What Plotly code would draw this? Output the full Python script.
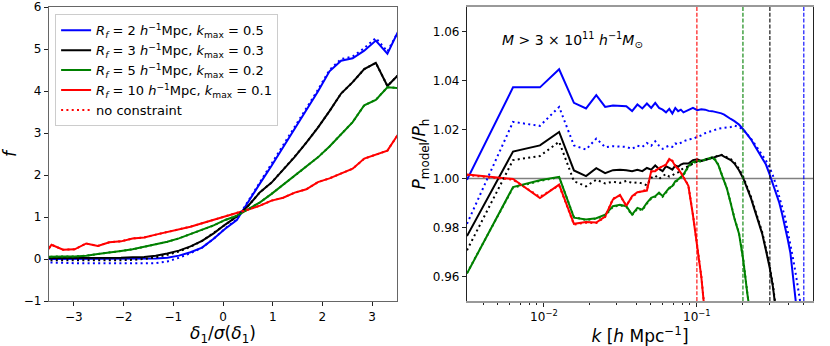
import plotly.graph_objects as go
from plotly.subplots import make_subplots

# ---- left panel: f vs delta_1 / sigma(delta_1) ----
delta_bins = [-3.683, -3.45, -3.217, -2.984, -2.751, -2.518, -2.285, -2.052, -1.819, -1.586,
              -1.353, -1.12, -0.887, -0.654, -0.421, -0.188, 0.045, 0.278, 0.511, 0.744,
              0.977, 1.21, 1.443, 1.676, 1.909, 2.142, 2.375, 2.608, 2.841, 3.074, 3.307, 3.54]

f_r2 = [0.0, 0.0, 0.0, 0.0, 0.0, 0.0, 0.0, 0.0, 0.0, 0.01, 0.01, 0.03, 0.08, 0.16, 0.27, 0.48,
        0.72, 0.93, 1.38, 1.80, 2.22, 2.66, 3.11, 3.55, 3.99, 4.47, 4.72, 4.78, 4.96, 5.2, 4.89, 5.46]
f_r3 = [0.02, 0.02, 0.02, 0.02, 0.02, 0.02, 0.02, 0.03, 0.04, 0.05, 0.08, 0.13, 0.2, 0.3, 0.43, 0.61,
        0.82, 1.01, 1.27, 1.59, 1.82, 2.12, 2.43, 2.77, 3.13, 3.52, 3.94, 4.21, 4.52, 4.67, 4.12, 4.40]
f_r5 = [0.05, 0.06, 0.06, 0.06, 0.08, 0.12, 0.15, 0.19, 0.23, 0.29, 0.34, 0.41, 0.49, 0.59, 0.69, 0.8,
        0.93, 1.03, 1.19, 1.35, 1.55, 1.77, 2.0, 2.2, 2.42, 2.68, 2.98, 3.26, 3.66, 3.79, 4.09, 4.07]
f_r10 = [-0.05, 0.34, 0.22, 0.23, 0.37, 0.31, 0.40, 0.42, 0.49, 0.51, 0.58, 0.64, 0.71, 0.77, 0.85, 0.93,
         1.01, 1.09, 1.18, 1.27, 1.39, 1.46, 1.58, 1.66, 1.83, 1.92, 2.03, 2.15, 2.39, 2.48, 2.58, 3.0]

# "no constraint" versions
f_r2_nc = [-0.08, -0.08, -0.09, -0.1, -0.1, -0.11, -0.11, -0.11, -0.11, -0.11, -0.1, -0.06, 0.03, 0.14, 0.27, 0.48,
           0.73, 0.95, 1.39, 1.82, 2.24, 2.68, 3.13, 3.58, 4.03, 4.5, 4.76, 4.82, 5.02, 5.26, 4.94, 5.45]
f_r3_nc = [-0.03, -0.03, -0.04, -0.04, -0.04, -0.04, -0.04, -0.03, -0.02, 0.0, 0.04, 0.1, 0.18, 0.29, 0.43, 0.62,
           0.82, 1.01, 1.27, 1.59, 1.82, 2.12, 2.44, 2.77, 3.13, 3.52, 3.94, 4.21, 4.52, 4.67, 4.12, 4.40]
f_r5_nc = [0.05, 0.06, 0.06, 0.06, 0.08, 0.12, 0.15, 0.19, 0.23, 0.29, 0.34, 0.41, 0.49, 0.59, 0.69, 0.8,
           0.93, 1.03, 1.19, 1.35, 1.55, 1.77, 2.0, 2.2, 2.42, 2.68, 2.98, 3.26, 3.66, 3.79, 4.09, 4.07]
f_r10_nc = [-0.05, 0.34, 0.22, 0.23, 0.37, 0.31, 0.40, 0.42, 0.49, 0.51, 0.58, 0.64, 0.71, 0.77, 0.85, 0.93,
            1.01, 1.09, 1.18, 1.27, 1.39, 1.46, 1.58, 1.66, 1.83, 1.92, 2.03, 2.15, 2.39, 2.48, 2.58, 3.0]

# ---- right panel: P_model / P_h vs k ----
k = [0.00314, 0.00628, 0.00942, 0.01257, 0.01571, 0.01885, 0.02199, 0.02513, 0.02827, 0.03142,
     0.03456, 0.0377, 0.04084, 0.04398, 0.04712, 0.05027, 0.05341, 0.05655, 0.05969, 0.06283,
     0.06597, 0.06912, 0.07226, 0.0754, 0.07854, 0.08168, 0.08796, 0.09425, 0.10053, 0.10681,
     0.1131, 0.11938, 0.12566, 0.13195, 0.13823, 0.14451, 0.1508, 0.15708, 0.1665, 0.17593,
     0.1885, 0.20106, 0.21363, 0.2262, 0.23876, 0.25133, 0.26704, 0.28274, 0.29845, 0.31416,
     0.32987, 0.34558, 0.36128, 0.37699, 0.3927, 0.40841, 0.42412, 0.43982, 0.45553, 0.47124,
     0.48695]

p_r2 = [0.9995, 1.0372, 1.0372, 1.0446, 1.0309, 1.0286, 1.0340, 1.0292, 1.0298, 1.0296,
        1.0295, 1.0275, 1.0302, 1.0286, 1.0306, 1.0288, 1.0309, 1.0288, 1.0281, 1.0270,
        1.0284, 1.0265, 1.0288, 1.0275, 1.0281, 1.0270, 1.0281, 1.0288, 1.0279, 1.0283,
        1.0281, 1.0276, 1.0275, 1.0272, 1.0270, 1.0266, 1.0261, 1.0255, 1.0243, 1.0234,
        1.0220, 1.0200, 1.0179, 1.0159, 1.0134, 1.0111, 1.0084, 1.0057, 1.0018, 0.9978,
        0.9941, 0.9901, 0.9853, 0.9805, 0.9751, 0.9697, 0.9615, 0.9520, 0.9430, None, None]
p_r2_nc = [0.9815, 1.0231, 1.0215, 1.0292, 1.0135, 1.0118, 1.0163, 1.0128, 1.0132, 1.0129,
           1.0129, 1.0121, 1.0134, 1.0129, 1.0145, 1.0134, 1.0152, 1.0134, 1.0121, 1.0129,
           1.0134, 1.0129, 1.0143, 1.0139, 1.0145, 1.0152, 1.0159, 1.0162, 1.0170, 1.0176,
           1.0185, 1.0190, 1.0196, 1.0200, 1.0203, 1.0205, 1.0207, 1.0208, 1.0210, 1.0216,
           1.0210, 1.0199, 1.0182, 1.0162, 1.0141, 1.0121, 1.0100, 1.0073, 1.0046, 1.0012,
           0.9971, 0.9930, 0.9882, 0.9841, 0.9786, 0.9739, 0.9677, 0.9622, 0.9568, 0.9513, 0.9450]
p_r3 = [0.9765, 1.0110, 1.0135, 1.0190, 1.0033, 1.0010, 1.0042, 1.0022, 1.0034, 1.0036,
        1.0034, 1.0030, 1.0036, 1.0030, 1.0043, 1.0036, 1.0053, 1.0039, 1.0030, 1.0050,
        1.0043, 1.0036, 1.0053, 1.0048, 1.0057, 1.0061, 1.0061, 1.0075, 1.0078, 1.0072,
        1.0075, 1.0080, 1.0082, 1.0088, 1.0092, 1.0096, 1.0089, 1.0082, 1.0075, 1.0061,
        1.0034, 1.0000, 0.9959, 0.9918, 0.9871, 0.9830, 0.9775, 0.9707, 0.9639, 0.9558,
        0.9450] + [None] * 10
p_r3_nc = [0.9707, 1.0075, 1.0092, 1.0150, 0.9989, 0.9968, 0.9995, 0.9980, 0.9987, 0.9982,
           0.9990, 0.9982, 0.9984, 0.9980, 0.9972, 1.0003, 1.0012, 0.9998, 1.0010, 1.0018,
           1.0008, 1.0012, 1.0022, 1.0025, 1.0035, 1.0042, 1.0050, 1.0062, 1.0070, 1.0072,
           1.0077, 1.0082, 1.0085, 1.0090, 1.0094, 1.0097, 1.0092, 1.0086, 1.0079, 1.0066,
           1.0039, 1.0006, 0.9965, 0.9924, 0.9877, 0.9836, 0.9782, 0.9714, 0.9646, 0.9565,
           0.9460] + [None] * 10
p_r5 = [0.9612, 0.9965, 0.9993, 1.0007, 0.9840, 0.9833, 0.9838, 0.9852, 0.9887, 0.9893,
        0.9887, 0.9853, 0.9880, 0.9873, 0.9901, 0.9921, 0.9928, 0.9942, 0.9928, 0.9948,
        0.9962, 0.9969, 0.9989, 0.9996, 1.0007, 1.0016, 1.0050, 1.0067, 1.0070, 1.0072,
        1.0078, 1.0082, 1.0086, 1.0075, 1.0054, 1.0020, 0.9986, 0.9959, 0.9898, 0.9837,
        0.9775, 0.9666, 0.9530, 0.9420] + [None] * 17
p_r5_nc = [0.9614, 0.9962, 0.9990, 1.0005, 0.9843, 0.9830, 0.9836, 0.9848, 0.9884, 0.9890,
           0.9884, 0.9850, 0.9877, 0.9870, 0.9898, 0.9918, 0.9925, 0.9939, 0.9925, 0.9945,
           0.9959, 0.9966, 0.9986, 0.9993, 1.0004, 1.0013, 1.0047, 1.0064, 1.0068, 1.0070,
           1.0076, 1.0080, 1.0084, 1.0078, 1.0056, 1.0022, 0.9988, 0.9961, 0.9900, 0.9839,
           0.9777, 0.9668, 0.9532, 0.9422] + [None] * 17
p_r10 = [1.0016, 0.9998, 0.9920, 0.9975, 0.9815, 0.9822, 0.9820, 0.9845, 0.9915, 0.9933,
         0.9888, 0.9928, 0.9944, 0.9948, 0.9951, 1.0030, 1.0030, 1.0043, 1.0050, 1.0057,
         1.0080, 1.0071, 1.0050, 1.0039, 1.0023, 1.0003, 0.9970, 0.9850, 0.9730, 0.9600,
         0.9440] + [None] * 30
p_r10_nc = [1.0014, 0.9995, 0.9925, 0.9972, 0.9812, 0.9820, 0.9818, 0.9843, 0.9918, 0.9930,
            0.9890, 0.9925, 0.9941, 0.9950, 0.9953, 1.0027, 1.0033, 1.0040, 1.0052, 1.0054,
            1.0077, 1.0073, 1.0052, 1.0041, 1.0025, 1.0005, 0.9972, 0.9852, 0.9733, 0.9603,
            0.9445] + [None] * 30

r_f = [2, 3, 5, 10]
k_max = [0.5, 0.3, 0.2, 0.1]
colors = ["#0000ff", "#000000", "#008000", "#ff0000"]

f_solid = [f_r2, f_r3, f_r5, f_r10]
f_nc = [f_r2_nc, f_r3_nc, f_r5_nc, f_r10_nc]
p_solid = [p_r2, p_r3, p_r5, p_r10]
p_nc = [p_r2_nc, p_r3_nc, p_r5_nc, p_r10_nc]

FONT = "DejaVu Sans"
DOT = "2px,3.3px"

fig = make_subplots(rows=1, cols=2)

for rf, km, c, ys in zip(r_f, k_max, colors, f_solid):
    name = (f"<i>R<sub>f</sub></i> = {rf} <i>h</i><sup>−1</sup>Mpc, "
            f"<i>k</i><sub>max</sub> = {km}")
    fig.add_trace(go.Scatter(x=delta_bins, y=ys, mode="lines", name=name,
                             line=dict(color=c, width=2)), row=1, col=1)
for i, (c, ys) in enumerate(zip(colors, f_nc)):
    fig.add_trace(go.Scatter(x=delta_bins, y=ys, mode="lines", name="no constraint",
                             showlegend=(i == 3),
                             line=dict(color=c, width=2, dash=DOT)), row=1, col=1)

for c, ys in zip(colors, p_solid):
    fig.add_trace(go.Scatter(x=k, y=ys, mode="lines", showlegend=False,
                             line=dict(color=c, width=2)), row=1, col=2)
for c, ys in zip(colors, p_nc):
    fig.add_trace(go.Scatter(x=k, y=ys, mode="lines", showlegend=False,
                             line=dict(color=c, width=2, dash=DOT)), row=1, col=2)

# reference line and k_max markers
fig.add_shape(type="line", xref="x2 domain", yref="y2", x0=0, x1=1, y0=1.0, y1=1.0,
              line=dict(color="#808080", width=1.5), layer="below")
for km, c in zip(k_max, colors):
    fig.add_shape(type="line", xref="x2", yref="y2 domain", x0=km, x1=km, y0=0, y1=1,
                  line=dict(color=c, width=1.1, dash="4px,1.8px"))

fig.add_annotation(xref="x2 domain", yref="y2 domain", x=0.095, y=0.888,
                   xanchor="left", yanchor="middle",
                   text="<i>M</i> > 3 × 10<sup>11</sup> <i>h</i><sup>−1</sup><i>M</i><sub>⊙</sub>",
                   showarrow=False, font=dict(size=14, color="black", family=FONT))

axis_common = dict(showline=True, mirror=True, linecolor="#666666", linewidth=1.2,
                   ticks="outside", ticklen=4, tickcolor="#222222", showgrid=False,
                   zeroline=False, automargin=False,
                   tickfont=dict(size=12, color="black", family=FONT))

fig.update_xaxes(axis_common, row=1, col=1, range=[-3.5, 3.5], tickvals=[-3, -2, -1, 0, 1, 2, 3],
                 domain=[0, 0.4555],
                 title=dict(text="<i>δ</i><sub>1</sub>/<i>σ</i>(<i>δ</i><sub>1</sub>)",
                            font=dict(size=17, family=FONT), standoff=6))
fig.update_yaxes(axis_common, row=1, col=1, range=[-1, 6], tickvals=[-1, 0, 1, 2, 3, 4, 5, 6],
                 title=dict(text="<i>f</i>", font=dict(size=17, family=FONT), standoff=10))

fig.update_xaxes(axis_common, row=1, col=2, type="log", range=[-2.503, -0.241],
                 domain=[0.5471, 1.0], tickvals=[0.01, 0.1],
                 linecolor="#999999", linewidth=2,
                 ticktext=["10<sup>−2</sup>", "10<sup>−1</sup>"],
                 minor=dict(ticks="outside", ticklen=2, tickcolor="#222222",
                            tickvals=[0.004, 0.005, 0.006, 0.007, 0.008, 0.009,
                                      0.02, 0.03, 0.04, 0.05, 0.06, 0.07, 0.08, 0.09,
                                      0.2, 0.3, 0.4, 0.5]),
                 title=dict(text="<i>k</i> [<i>h</i> Mpc<sup>−1</sup>]",
                            font=dict(size=17, family=FONT), standoff=6))
fig.update_yaxes(axis_common, row=1, col=2, range=[0.95, 1.07],
                 linecolor="#222222",
                 tickvals=[0.96, 0.98, 1.0, 1.02, 1.04, 1.06], tickformat=".2f",
                 title=dict(text="<i>P</i><sub>model</sub>/<i>P</i><sub>h</sub>",
                            font=dict(size=17, family=FONT), standoff=2))

fig.update_layout(
    width=830, height=346,
    margin=dict(l=49, r=17, t=7, b=45),
    paper_bgcolor="white", plot_bgcolor="white",
    font=dict(family=FONT, color="black"),
    legend=dict(x=0.008, y=0.975, xanchor="left", yanchor="top",
                bgcolor="rgba(255,255,255,0.8)", bordercolor="#cccccc", borderwidth=1,
                font=dict(size=13, family=FONT), itemwidth=30),
)

fig.write_html("out.html", config={"displayModeBar": False},
               post_script="document.body.style.margin = '0';")
